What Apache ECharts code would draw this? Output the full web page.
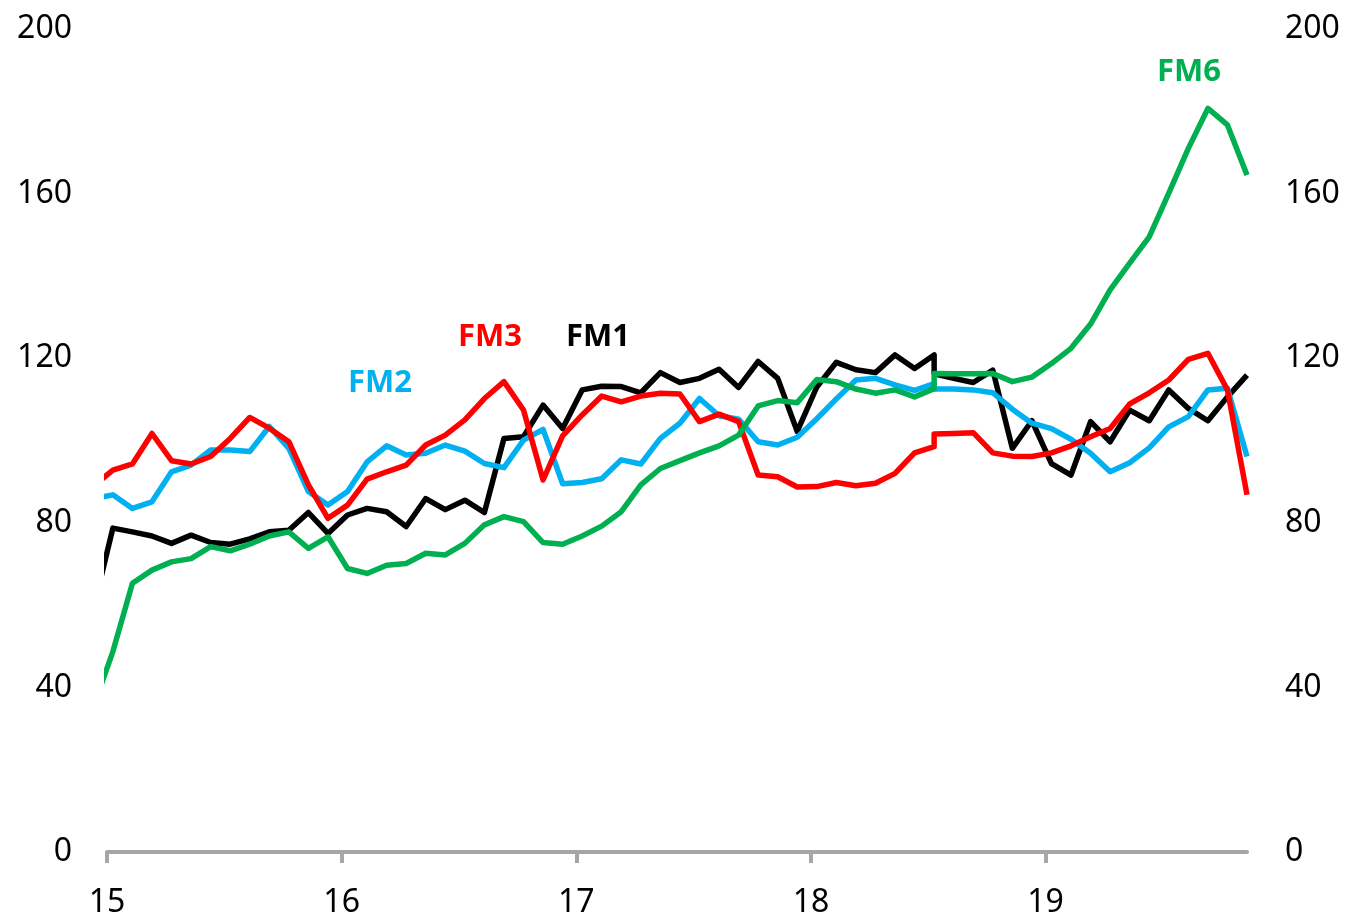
<!DOCTYPE html>
<html>
<head>
<meta charset="utf-8">
<title>FM series</title>
<script src="https://cdn.jsdelivr.net/npm/echarts@6/dist/echarts.min.js"></script>
<style>
  html, body { margin: 0; padding: 0; background: #fff; }
  #chart { width: 1345px; height: 916px; }
</style>
</head>
<body>
<div id="chart"></div>
<script>
// monthly observations, Dec-14 .. Nov-19 (Jul-18 appears twice: series break)
const months = [
  "2014-12",
  "2015-01", "2015-02", "2015-03", "2015-04", "2015-05", "2015-06",
  "2015-07", "2015-08", "2015-09", "2015-10", "2015-11", "2015-12",
  "2016-01", "2016-02", "2016-03", "2016-04", "2016-05", "2016-06",
  "2016-07", "2016-08", "2016-09", "2016-10", "2016-11", "2016-12",
  "2017-01", "2017-02", "2017-03", "2017-04", "2017-05", "2017-06",
  "2017-07", "2017-08", "2017-09", "2017-10", "2017-11", "2017-12",
  "2018-01", "2018-02", "2018-03", "2018-04", "2018-05", "2018-06",
  "2018-07", "2018-07", "2018-08", "2018-09", "2018-10", "2018-11", "2018-12",
  "2019-01", "2019-02", "2019-03", "2019-04", "2019-05", "2019-06",
  "2019-07", "2019-08", "2019-09", "2019-10", "2019-11"
];

const fm1 = [
  59,
  78.7, 77.8, 76.8, 75.0, 77.0, 75.2, 74.8, 76.1, 77.8, 78.2, 82.5, 77.4,
  81.9, 83.5, 82.7, 79.1, 85.9, 83.2, 85.5, 82.5, 100.5, 100.9, 108.6, 102.9,
  112.3, 113.2, 113.1, 111.6, 116.5, 114.1, 115.1, 117.3, 112.9, 119.2, 115.1, 102.2,
  113.0, 119.0, 117.2, 116.5, 120.8, 117.5, 120.8, 116.2, 115.1, 114.1, 117.1, 98.1, 104.8,
  94.4, 91.6, 104.6, 99.7, 107.4, 104.8, 112.3, 107.8, 104.8, 110.6, 115.9
];

const fm2 = [
  85.8,
  86.8, 83.5, 85.1, 92.4, 94.0, 97.7, 97.7, 97.3, 103.4, 98.1, 87.6, 84.3,
  87.6, 94.8, 98.7, 96.5, 96.9, 98.9, 97.4, 94.4, 93.4, 100.1, 102.7, 89.5,
  89.8, 90.7, 95.3, 94.3, 100.5, 104.2, 110.2, 106.0, 105.2, 99.7, 98.9, 100.8,
  105.3, 110.1, 114.7, 115.1, 113.5, 112.2, 113.8, 112.5, 112.5, 112.3, 111.6, 107.6, 104.2,
  102.9, 100.3, 96.9, 92.4, 94.6, 98.2, 103.3, 105.8, 112.3, 112.7, 96.1
];

const fm3 = [
  88.9,
  92.8, 94.3, 101.7, 95.1, 94.3, 96.1, 100.5, 105.6, 103.0, 99.7, 89.2, 81.1,
  84.3, 90.6, 92.4, 94.0, 98.9, 101.3, 105.0, 110.2, 114.3, 107.4, 90.4, 101.1,
  106.2, 110.8, 109.4, 110.8, 111.5, 111.3, 104.6, 106.4, 104.6, 91.6, 91.2, 88.7,
  88.8, 89.8, 89.0, 89.6, 92.0, 97.0, 98.5, 101.6, 101.7, 101.9, 97.0, 96.2, 96.1,
  97.0, 98.7, 100.9, 102.9, 108.9, 111.6, 114.7, 119.7, 121.2, 112.3, 86.8
];

const fm6 = [
  35.2,
  48.7, 65.3, 68.5, 70.5, 71.3, 74.2, 73.2, 74.8, 76.8, 77.8, 73.8, 76.6,
  68.9, 67.7, 69.7, 70.1, 72.6, 72.2, 75.0, 79.5, 81.5, 80.3, 75.2, 74.8,
  76.8, 79.2, 82.7, 89.2, 93.2, 95.1, 97.0, 98.7, 101.3, 108.4, 109.7, 109.2,
  114.8, 114.3, 112.5, 111.5, 112.3, 110.6, 112.6, 116.3, 116.2, 116.2, 116.3, 114.3, 115.4,
  118.7, 122.4, 128.3, 136.6, 143.1, 149.5, 160.1, 171.0, 180.7, 176.7, 164.5
];

const yearTicks = [15, 16, 17, 18, 19];

// place each month on a year scale (two-digit year + fraction)
const MONTH_OFFSET = 0.3;
function monthToX(s) {
  const p = s.split("-");
  return (parseInt(p[0], 10) - 2000) + (parseInt(p[1], 10) - 1 + MONTH_OFFSET) / 12;
}
function pairs(vals) {
  return vals.map((v, i) => [monthToX(months[i]), v]);
}

const font = "'Noto Sans', 'Open Sans', sans-serif";

const chart = echarts.init(document.getElementById("chart"), null, { renderer: "canvas" });

const lineSeries = (name, data, color) => ({
  name: name,
  type: "line",
  data: pairs(data),
  showSymbol: false,
  symbol: "none",
  clip: true,
  lineStyle: { color: color, width: 5.5, join: "round" },
  animation: false
});

const yAxisBase = {
  type: "value",
  min: 0,
  max: 200,
  interval: 40,
  axisLine: { show: false },
  axisTick: { show: false },
  splitLine: { show: false },
  axisLabel: { fontSize: 32, color: "#000", fontFamily: font, padding: [7, 0, 0, 0] }
};

chart.setOption({
  backgroundColor: "#fff",
  animation: false,
  grid: { left: 107, right: 98, top: 29, bottom: 64, containLabel: false, outerBoundsMode: "none" },
  xAxis: {
    type: "value",
    min: 15,
    max: 15 + 58.3 / 12,
    interval: 1,
    axisLine: { show: true, onZero: false, lineStyle: { color: "#a6a6a6", width: 4 } },
    axisTick: { show: true, length: 11, inside: false, lineStyle: { color: "#a6a6a6", width: 4 }, customValues: yearTicks },
    splitLine: { show: false },
    axisLabel: {
      customValues: yearTicks,
      margin: 35,
      fontSize: 32,
      color: "#000",
      fontFamily: font,
      formatter: (v) => String(Math.round(v))
    }
  },
  yAxis: [
    Object.assign({}, yAxisBase, { position: "left", axisLabel: Object.assign({}, yAxisBase.axisLabel, { margin: 35 }) }),
    Object.assign({}, yAxisBase, { position: "right", axisLabel: Object.assign({}, yAxisBase.axisLabel, { margin: 38 }) })
  ],
  series: [
    lineSeries("FM1", fm1, "#000000"),
    lineSeries("FM2", fm2, "#00b0f0"),
    lineSeries("FM3", fm3, "#ff0000"),
    lineSeries("FM6", fm6, "#00b050")
  ],
  graphic: [
    { type: "text", left: 1157, top: 57, style: { text: "FM6", fill: "#00b050", font: "bold 31px " + font } },
    { type: "text", left: 458, top: 322, style: { text: "FM3", fill: "#ff0000", font: "bold 31px " + font } },
    { type: "text", left: 566, top: 322, style: { text: "FM1", fill: "#000000", font: "bold 31px " + font } },
    { type: "text", left: 348, top: 368, style: { text: "FM2", fill: "#00b0f0", font: "bold 31px " + font } }
  ]
});
</script>
</body>
</html>
